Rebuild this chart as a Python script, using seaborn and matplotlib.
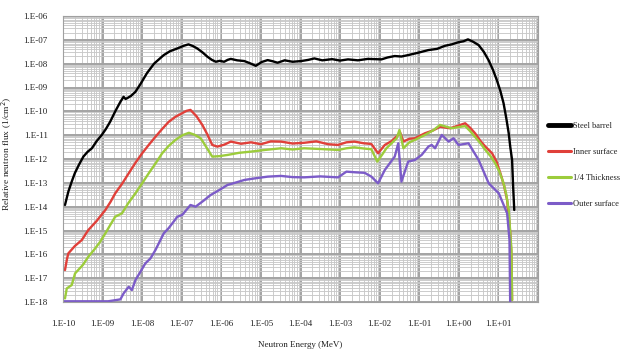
import numpy as np
import pandas as pd
import matplotlib
matplotlib.use("Agg")
import matplotlib.pyplot as plt
import matplotlib.ticker as mticker
import seaborn as sns

# ---- data (log10 of energy in MeV, log10 of relative flux) ----
steel_logE = [-9.95,-9.90,-9.865,-9.78,-9.70,-9.60,-9.485,-9.38,-9.27,-9.15,-9.02,-8.92,-8.81,-8.68,-8.55,-8.47,-8.42,-8.38,-8.28,-8.17,-8.03,-7.88,-7.70,-7.455,-7.30,-7.11,-6.95,-6.83,-6.72,-6.61,-6.48,-6.35,-6.24,-6.14,-6.04,-5.93,-5.84,-5.76,-5.60,-5.42,-5.28,-5.13,-4.98,-4.83,-4.70,-4.58,-4.40,-4.20,-3.98,-3.80,-3.65,-3.45,-3.20,-3.00,-2.80,-2.55,-2.30,-1.955,-1.80,-1.62,-1.45,-1.28,-1.05,-0.77,-0.55,-0.35,-0.18,-0.01,0.12,0.23,0.36,0.50,0.63,0.75,0.86,0.96,1.05,1.13,1.20,1.26,1.30,1.345,1.37,1.40]
steel_logF = [-13.93,-13.60,-13.37,-12.95,-12.59,-12.25,-11.90,-11.70,-11.55,-11.25,-10.99,-10.75,-10.44,-10.00,-9.60,-9.39,-9.48,-9.45,-9.35,-9.18,-8.82,-8.40,-8.00,-7.64,-7.48,-7.36,-7.25,-7.19,-7.26,-7.36,-7.52,-7.71,-7.84,-7.92,-7.88,-7.92,-7.84,-7.80,-7.86,-7.89,-7.98,-8.09,-7.93,-7.85,-7.90,-7.96,-7.86,-7.92,-7.89,-7.84,-7.78,-7.86,-7.81,-7.87,-7.82,-7.86,-7.80,-7.82,-7.74,-7.68,-7.70,-7.64,-7.55,-7.43,-7.38,-7.25,-7.19,-7.10,-7.06,-6.98,-7.08,-7.22,-7.50,-7.85,-8.25,-8.69,-9.15,-9.66,-10.30,-10.92,-11.50,-12.04,-13.09,-14.14]

inner_logE = [-9.95,-9.90,-9.865,-9.70,-9.525,-9.36,-9.15,-8.93,-8.80,-8.68,-8.50,-8.34,-8.17,-8.00,-7.83,-7.665,-7.50,-7.33,-7.15,-6.99,-6.88,-6.78,-6.63,-6.48,-6.35,-6.23,-6.10,-5.93,-5.76,-5.50,-5.25,-5.00,-4.75,-4.49,-4.20,-3.91,-3.60,-3.30,-3.05,-2.84,-2.64,-2.40,-2.21,-2.04,-1.87,-1.70,-1.53,-1.49,-1.40,-1.25,-1.11,-0.855,-0.65,-0.475,-0.22,-0.05,0.16,0.28,0.41,0.55,0.67,0.84,0.95,1.05,1.14,1.22,1.30,1.33,1.345]
inner_logF = [-16.66,-16.20,-15.96,-15.65,-15.40,-14.98,-14.60,-14.14,-13.80,-13.44,-13.02,-12.60,-12.16,-11.76,-11.40,-11.07,-10.75,-10.44,-10.22,-10.08,-9.98,-9.94,-10.20,-10.57,-10.98,-11.41,-11.48,-11.40,-11.27,-11.36,-11.30,-11.38,-11.26,-11.27,-11.35,-11.32,-11.26,-11.38,-11.41,-11.30,-11.27,-11.34,-11.37,-11.76,-11.41,-11.25,-10.99,-10.86,-11.27,-11.15,-11.13,-10.92,-10.80,-10.65,-10.71,-10.62,-10.50,-10.68,-10.92,-11.25,-11.48,-11.76,-12.10,-12.60,-13.10,-13.72,-15.12,-16.10,-17.92]

quarter_logE = [-9.95,-9.905,-9.78,-9.695,-9.50,-9.36,-9.20,-9.06,-8.93,-8.80,-8.68,-8.51,-8.35,-8.17,-8.00,-7.835,-7.66,-7.495,-7.33,-7.16,-6.98,-6.82,-6.68,-6.52,-6.38,-6.23,-6.05,-5.845,-5.55,-5.25,-4.90,-4.49,-4.20,-3.91,-3.50,-3.05,-2.84,-2.64,-2.40,-2.21,-2.06,-1.93,-1.83,-1.57,-1.50,-1.40,-1.25,-1.11,-0.855,-0.65,-0.475,-0.18,0.00,0.16,0.28,0.41,0.55,0.67,0.80,0.92,1.03,1.13,1.20,1.26,1.33,1.345]
quarter_logF = [-17.85,-17.43,-17.29,-16.80,-16.45,-16.10,-15.78,-15.47,-15.12,-14.75,-14.42,-14.28,-13.85,-13.44,-13.02,-12.60,-12.18,-11.76,-11.45,-11.20,-11.00,-10.90,-10.98,-11.13,-11.50,-11.90,-11.88,-11.83,-11.74,-11.69,-11.62,-11.55,-11.60,-11.55,-11.58,-11.62,-11.55,-11.51,-11.56,-11.59,-12.11,-11.80,-11.55,-11.13,-10.78,-11.55,-11.30,-11.20,-10.99,-10.80,-10.57,-10.71,-10.66,-10.62,-10.82,-11.07,-11.35,-11.62,-11.88,-12.18,-12.55,-13.02,-13.50,-14.14,-15.82,-17.92]

outer_logE = [-10.0,-9.50,-9.00,-8.86,-8.55,-8.47,-8.34,-8.26,-8.17,-8.05,-7.92,-7.79,-7.665,-7.455,-7.33,-7.11,-6.99,-6.78,-6.65,-6.45,-6.27,-6.05,-5.845,-5.62,-5.42,-5.10,-4.83,-4.49,-4.20,-3.91,-3.50,-3.05,-2.84,-2.60,-2.38,-2.21,-2.04,-1.87,-1.62,-1.53,-1.45,-1.28,-1.11,-0.94,-0.77,-0.685,-0.60,-0.43,-0.26,-0.135,-0.01,0.245,0.50,0.755,1.01,1.22,1.28,1.30]
outer_logF = [-17.97,-17.97,-17.97,-17.97,-17.89,-17.64,-17.36,-17.50,-17.08,-16.75,-16.38,-16.17,-15.82,-15.12,-14.90,-14.42,-14.35,-13.93,-14.00,-13.75,-13.51,-13.30,-13.09,-12.98,-12.88,-12.80,-12.74,-12.71,-12.76,-12.77,-12.73,-12.77,-12.53,-12.56,-12.58,-12.74,-13.02,-12.46,-11.90,-11.34,-12.95,-12.11,-12.04,-11.83,-11.48,-11.41,-11.55,-10.99,-11.27,-11.13,-11.41,-11.34,-12.04,-13.02,-13.44,-14.28,-15.40,-18.5]

series_names = ["Steel barrel", "Inner surface", "1/4 Thickness", "Outer surface"]
series_colors = ["#000000", "#e0403a", "#9ccc3c", "#7c5cc8"]

x_tick_exps = list(range(-10, 3))
x_tick_labels = ["1.E-10", "1.E-09", "1.E-08", "1.E-07", "1.E-06", "1.E-05", "1.E-04",
                 "1.E-03", "1.E-02", "1.E-01", "1.E+00", "1.E+01", ""]
y_tick_exps = list(range(-18, -5))
y_tick_labels = ["1.E-18", "1.E-17", "1.E-16", "1.E-15", "1.E-14", "1.E-13", "1.E-12",
                 "1.E-11", "1.E-10", "1.E-09", "1.E-08", "1.E-07", "1.E-06"]

# ---- build long table ----
frames = []
for name, le, lf in zip(series_names,
                        [steel_logE, inner_logE, quarter_logE, outer_logE],
                        [steel_logF, inner_logF, quarter_logF, outer_logF]):
    assert len(le) == len(lf), name
    frames.append(pd.DataFrame({"energy": np.power(10.0, le),
                                "flux": np.power(10.0, lf),
                                "series": name}))
df = pd.concat(frames, ignore_index=True)

sns.set_theme(style="white")
plt.rcParams["font.family"] = ["Liberation Serif", "DejaVu Serif"]

fig = plt.figure(figsize=(6.22, 3.55), dpi=100)
ax = fig.add_axes([63/622, 1-302/355, (538-63)/622, (302-16)/355])

sns.lineplot(data=df, x="energy", y="flux", hue="series", hue_order=series_names,
             palette=dict(zip(series_names, series_colors)), estimator=None,
             sort=False, linewidth=1.7, ax=ax, legend=False)

ax.set_xscale("log")
ax.set_yscale("log")
ax.set_xlim(1e-10, 1e2)
ax.set_ylim(1e-18, 1e-6)

ax.xaxis.set_major_locator(mticker.FixedLocator([10.0**e for e in x_tick_exps]))
ax.xaxis.set_major_formatter(mticker.FixedFormatter(x_tick_labels))
ax.yaxis.set_major_locator(mticker.FixedLocator([10.0**e for e in y_tick_exps]))
ax.yaxis.set_major_formatter(mticker.FixedFormatter(y_tick_labels))
ax.xaxis.set_minor_locator(mticker.LogLocator(base=10, subs=np.arange(2, 10), numticks=100))
ax.yaxis.set_minor_locator(mticker.LogLocator(base=10, subs=np.arange(2, 10), numticks=100))
ax.xaxis.set_minor_formatter(mticker.NullFormatter())
ax.yaxis.set_minor_formatter(mticker.NullFormatter())

ax.grid(which="major", color="#a3a3a3", linewidth=1.4)
ax.grid(which="minor", color="#c8c8c8", linewidth=0.65)
ax.set_axisbelow(True)
ax.set_facecolor("white")
for s in ax.spines.values():
    s.set_color("#a0a0a0")
    s.set_linewidth(0.8)

ax.tick_params(axis="both", which="major", labelsize=6.5, colors="#222222",
               length=3, width=0.6, direction="out", pad=8)
ax.tick_params(axis="x", which="major", pad=10)
ax.tick_params(axis="both", which="minor", length=0)

ax.set_xlabel("Neutron Energy (MeV)", fontsize=6.5, color="#222222")
ax.set_ylabel("Relative neutron flux (1/cm$^2$)", fontsize=6.8, color="#222222")
ax.xaxis.set_label_coords(0.50, -0.135)
ax.yaxis.set_label_coords((14 - 63) / 475, 0.52)

# legend
from matplotlib.lines import Line2D
handles = [Line2D([0], [0], color=c, lw=(3.5 if i == 0 else 2.2))
           for i, c in enumerate(series_colors)]
leg = fig.legend(handles, series_names, loc="upper left",
                 bbox_to_anchor=(544/622, 1-118/355), bbox_transform=fig.transFigure,
                 frameon=False, fontsize=6, handlelength=2.7, handletextpad=0.25,
                 labelspacing=2.15, borderpad=0)
for t in leg.get_texts():
    t.set_color("#222222")

fig.savefig("out.png", dpi=100)
